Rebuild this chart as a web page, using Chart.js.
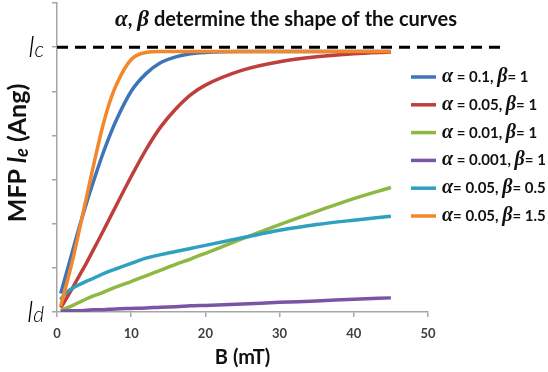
<!DOCTYPE html>
<html lang="en">
<head>
<meta charset="UTF-8">
<title>MFP vs B</title>
<script src="https://cdn.jsdelivr.net/npm/chart.js"></script>
<style>
    body { margin: 0; background: #ffffff; }
    #wrap { width: 548px; height: 372px; position: relative; }
</style>
</head>
<body>
<div id="wrap"><canvas id="mfpChart"></canvas></div>
<script>
// magnetic field B (mT)
var fieldB = [0.5, 1, 2, 3, 4, 5, 6, 7, 8, 10, 12, 14, 16, 18, 20, 25, 30, 35, 40, 45];

// mean free path, in axis units: 0 = l_d, 6 = l_c
var mfpA010B10 = [0.42, 0.72, 1.32, 1.92, 2.48, 3.0, 3.5, 3.95, 4.35, 5.0, 5.4, 5.65, 5.78, 5.85, 5.88, 5.9, 5.9, 5.9, 5.9, 5.9];
var mfpA005B10 = [0.1, 0.23, 0.52, 0.82, 1.12, 1.44, 1.76, 2.09, 2.42, 3.07, 3.68, 4.2, 4.6, 4.92, 5.14, 5.48, 5.67, 5.78, 5.85, 5.89];
var mfpA001B10 = [0.03, 0.07, 0.14, 0.22, 0.3, 0.37, 0.43, 0.5, 0.57, 0.69, 0.82, 0.95, 1.08, 1.2, 1.33, 1.66, 1.98, 2.28, 2.57, 2.82];
var mfpA0001B10 = [0.01, 0.02, 0.03, 0.03, 0.04, 0.05, 0.05, 0.06, 0.07, 0.08, 0.09, 0.11, 0.12, 0.14, 0.15, 0.18, 0.22, 0.25, 0.29, 0.32];
var mfpA005B05 = [0.28, 0.4, 0.53, 0.62, 0.7, 0.77, 0.85, 0.92, 0.98, 1.1, 1.22, 1.3, 1.37, 1.44, 1.51, 1.68, 1.85, 1.98, 2.08, 2.17];
var mfpA005B15 = [0.13, 0.45, 1.1, 1.85, 2.62, 3.38, 4.1, 4.7, 5.15, 5.72, 5.88, 5.9, 5.9, 5.9, 5.9, 5.9, 5.9, 5.9, 5.9, 5.9];

var seriesLabels = ['α = 0.1, β= 1', 'α = 0.05, β= 1', 'α = 0.01, β= 1', 'α = 0.001, β= 1', 'α= 0.05, β= 0.5', 'α= 0.05, β= 1.5'];
var seriesValues = [mfpA010B10, mfpA005B10, mfpA001B10, mfpA0001B10, mfpA005B05, mfpA005B15];
var seriesColors = ['#3e75b8', '#bd403c', '#8fb843', '#7a55a3', '#2fa0c0', '#f2872b'];

// saturation level l_c, dashed reference across to the legend
var lcLevel = 6;
var lcLineB = [0, 60];

// only the two ends of the y axis carry a label
var yLabelValues = [0, 6];
var yLabelSubs = ['d', 'c'];

var chartTitle = 'α, β determine the shape of the curves';
var xTitle = 'B (mT)';

var SANS = 'Lato, "Open Sans", sans-serif';
var GREEK = '"Liberation Serif", "DejaVu Serif", serif';

// split a string so that alpha / beta use the italic serif face
function greekRuns(text, plainFont, greekFont) {
    var runs = [];
    for (var i = 0; i < text.length; i++) {
        var ch = text[i];
        var isGreek = (ch === 'α' || ch === 'β');
        var last = runs[runs.length - 1];
        if (last && last.greek === isGreek) {
            last.text += ch;
        } else {
            runs.push({ text: ch, greek: isGreek, font: isGreek ? greekFont : plainFont });
        }
    }
    return runs;
}

function runsWidth(ctx, runs) {
    var w = 0;
    runs.forEach(function (r) {
        ctx.font = r.font;
        w += ctx.measureText(r.text).width;
    });
    return w;
}

function drawRuns(ctx, runs, x, y) {
    runs.forEach(function (r) {
        ctx.font = r.font;
        ctx.fillText(r.text, x, y + (r.dy || 0));
        x += ctx.measureText(r.text).width;
    });
    return x;
}

var labelsPlugin = {
    id: 'labelsPlugin',
    afterDraw: function (chart) {
        var ctx = chart.ctx;
        var area = chart.chartArea;
        var yScale = chart.scales.y;
        ctx.save();
        ctx.textBaseline = 'alphabetic';
        ctx.fillStyle = '#111111';

        // title
        var tRuns = greekRuns(chartTitle, 'bold 20px ' + SANS, 'italic bold 23px ' + GREEK);
        var tw = runsWidth(ctx, tRuns);
        drawRuns(ctx, tRuns, 286 - tw / 2, 26);

        // y axis title, rotated
        var yRuns = [
            { text: 'MFP ', font: 'bold 25px ' + SANS },
            { text: 'l', font: 'italic bold 25px ' + SANS },
            { text: 'e', font: 'italic bold 18px ' + SANS, dy: 2 },
            { text: ' (Ang)', font: 'bold 25px ' + SANS }
        ];
        var yw = runsWidth(ctx, yRuns);
        ctx.save();
        ctx.translate(26, 153);
        ctx.rotate(-Math.PI / 2);
        drawRuns(ctx, yRuns, -yw / 2, 0);
        ctx.restore();

        // l_d and l_c at the ends of the y axis
        ctx.fillStyle = '#000000';
        yLabelValues.forEach(function (v, i) {
            var py = yScale.getPixelForValue(v);
            var runs = [
                { text: 'l', font: 'italic 300 30px ' + SANS },
                { text: yLabelSubs[i], font: 'italic 300 21px ' + SANS }
            ];
            var w = runsWidth(ctx, runs);
            drawRuns(ctx, runs, area.left - 13 - w, py + 10);
        });

        // legend
        ctx.fillStyle = '#111111';
        chart.data.datasets.forEach(function (ds, i) {
            if (i >= seriesLabels.length) return;
            var cy = 77 + i * 27.8;
            ctx.strokeStyle = ds.borderColor;
            ctx.lineWidth = 3.5;
            ctx.beginPath();
            ctx.moveTo(411, cy);
            ctx.lineTo(436, cy);
            ctx.stroke();
            var runs = greekRuns(seriesLabels[i], 'bold 15px ' + SANS, 'italic bold 20px ' + GREEK);
            drawRuns(ctx, runs, 442, cy + 5);
        });
        ctx.restore();
    }
};

var datasets = seriesValues.map(function (vals, i) {
    return {
        label: seriesLabels[i],
        data: fieldB.map(function (b, k) { return { x: b, y: vals[k] }; }),
        borderColor: seriesColors[i],
        backgroundColor: seriesColors[i],
        borderWidth: 3.5,
        pointRadius: 0,
        fill: false,
        cubicInterpolationMode: 'monotone',
        order: seriesValues.length - i
    };
});

datasets.push({
    label: 'lc',
    data: lcLineB.map(function (b) { return { x: b, y: lcLevel }; }),
    borderColor: '#000000',
    borderWidth: 3,
    borderDash: [11, 7],
    pointRadius: 0,
    fill: false,
    clip: false,
    order: 0
});

var ctx = document.getElementById('mfpChart').getContext('2d');
var mfpChart = new Chart(ctx, {
    type: 'line',
    data: { datasets: datasets },
    options: {
        responsive: true,
        maintainAspectRatio: false,
        animation: false,
        layout: { padding: { top: 3, right: 120, bottom: 0, left: 0 } },
        plugins: {
            legend: { display: false },
            tooltip: { enabled: false }
        },
        scales: {
            x: {
                type: 'linear',
                min: 0,
                max: 50,
                ticks: {
                    stepSize: 10,
                    padding: 9,
                    color: '#404040',
                    font: { family: SANS, size: 13, weight: 'bold' }
                },
                grid: { drawOnChartArea: false, tickLength: 5, color: '#a6a6a6', lineWidth: 1.5 },
                border: { color: '#a6a6a6', width: 1.5 },
                title: {
                    display: true,
                    text: xTitle,
                    color: '#111111',
                    font: { family: SANS, size: 20, weight: 'bold' },
                    padding: { top: 0, bottom: 2 }
                },
                afterFit: function (scale) { scale.height = 60; }
            },
            y: {
                type: 'linear',
                min: 0,
                max: 7,
                ticks: {
                    stepSize: 1,
                    display: false
                },
                grid: { drawOnChartArea: false, tickLength: 5, color: '#a6a6a6', lineWidth: 1.5 },
                border: { color: '#a6a6a6', width: 1.5 },
                afterFit: function (scale) { scale.width = 57; }
            }
        }
    },
    plugins: [labelsPlugin]
});
</script>
</body>
</html>
